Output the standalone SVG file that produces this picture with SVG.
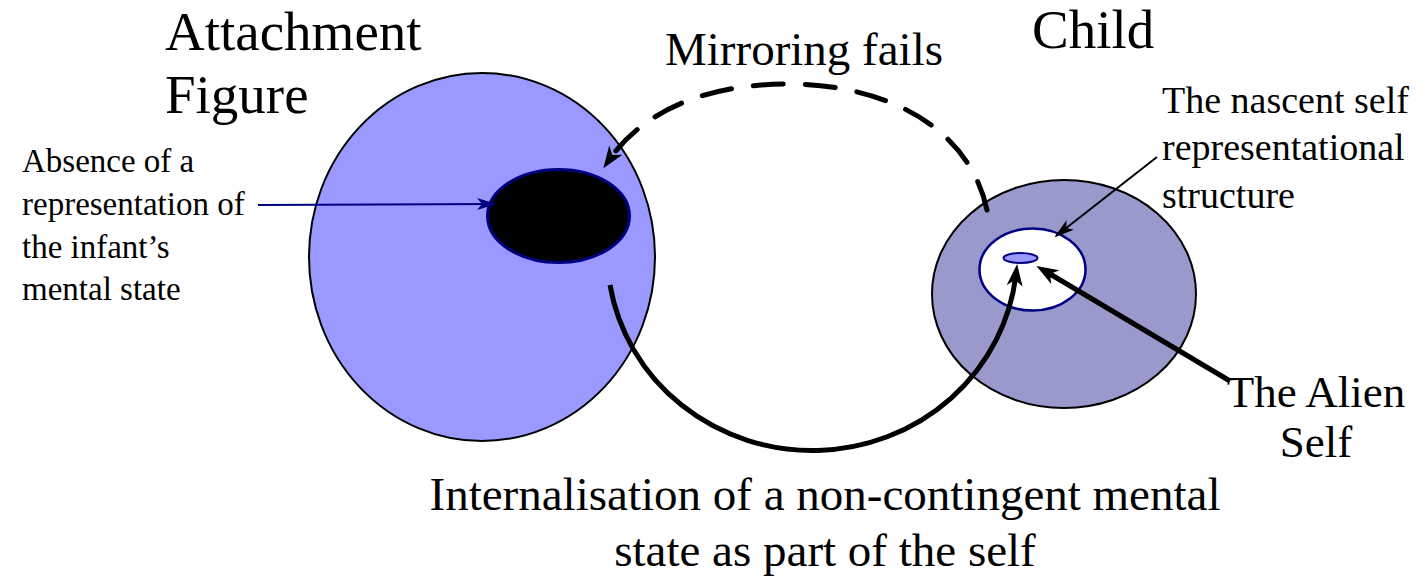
<svg xmlns="http://www.w3.org/2000/svg" width="1427" height="577" viewBox="0 0 1427 577">
<style>
text{font-family:'Liberation Serif','Tinos','Times New Roman','DejaVu Serif',serif;fill:#000}
.big{font-size:55px}
.mid{font-size:47px}
.al{font-size:45px}
.ns{font-size:38px}
.ab{font-size:33px}
.thick{fill:none;stroke:#000;stroke-width:5}
</style>
<defs>
<marker id="headK" markerUnits="userSpaceOnUse" markerWidth="24" markerHeight="18" refX="12" refY="8" orient="auto" overflow="visible">
<path d="M0,0 L22,8 L0,16 L6,8 Z" fill="#000"/>
</marker>
<marker id="headKthin" markerUnits="userSpaceOnUse" markerWidth="24" markerHeight="16" refX="18" refY="6" orient="auto" overflow="visible">
<path d="M0,0 L20,6 L0,12 L5,6 Z" fill="#000"/>
</marker>
<marker id="headN" markerUnits="userSpaceOnUse" markerWidth="24" markerHeight="16" refX="18" refY="6" orient="auto" overflow="visible">
<path d="M0,0 L20,6 L0,12 L5,6 Z" fill="#000080"/>
</marker>
</defs>

<g id="attachment-figure">
<ellipse cx="482" cy="257" rx="173" ry="184" fill="#9999FF" stroke="#000" stroke-width="2"/>
<text class="big" x="165" y="50">Attachment</text>
<text class="big" x="165" y="113">Figure</text>
</g>

<g id="absence">
<ellipse cx="558.5" cy="216" rx="71" ry="46.5" fill="#000" stroke="#000080" stroke-width="3"/>
<text class="ab" x="22" y="172">Absence of a</text>
<text class="ab" x="22" y="215">representation of</text>
<text class="ab" x="22" y="258">the infant’s</text>
<text class="ab" x="22" y="300">mental state</text>
</g>

<g id="child">
<ellipse cx="1064" cy="294" rx="132" ry="114" fill="#9999CC" stroke="#000" stroke-width="2"/>
<text class="big" x="1032" y="48">Child</text>
</g>

<g id="nascent-self">
<ellipse cx="1032.5" cy="269.5" rx="53" ry="41" fill="#fff" stroke="#000080" stroke-width="2.5"/>
<text class="ns" x="1162" y="113">The nascent self</text>
<text class="ns" x="1162" y="160">representational</text>
<text class="ns" x="1162" y="208">structure</text>
</g>

<g id="alien-self">
<ellipse cx="1020.5" cy="258" rx="17" ry="5" fill="#9999FF" stroke="#000080" stroke-width="2"/>
<text class="al" x="1316" y="407" text-anchor="middle">The Alien</text>
<text class="al" x="1316" y="457" text-anchor="middle">Self</text>
</g>

<g id="labels">
<text class="mid" x="665" y="65">Mirroring fails</text>
<text class="mid" x="825" y="510" text-anchor="middle">Internalisation of a non-contingent mental</text>
<text class="mid" x="825" y="566" text-anchor="middle">state as part of the self</text>
</g>

<g id="connectors">
<path class="thick" d="M987 210 C970 130 890 84 787 84 C700 84 640 115 609 160" stroke-dasharray="30 22" stroke-linecap="round" marker-end="url(#headK)"/>
<path class="thick" d="M610 285 A205 198 0 0 0 1016 274" marker-end="url(#headK)"/>
<path class="thick" d="M1230 381 L1045 271" marker-end="url(#headK)"/>
<path d="M1157 157 L1056 236" fill="none" stroke="#000" stroke-width="2" marker-end="url(#headKthin)"/>
<path d="M258 205 L495 204" fill="none" stroke="#000080" stroke-width="2" marker-end="url(#headN)"/>
</g>
</svg>
